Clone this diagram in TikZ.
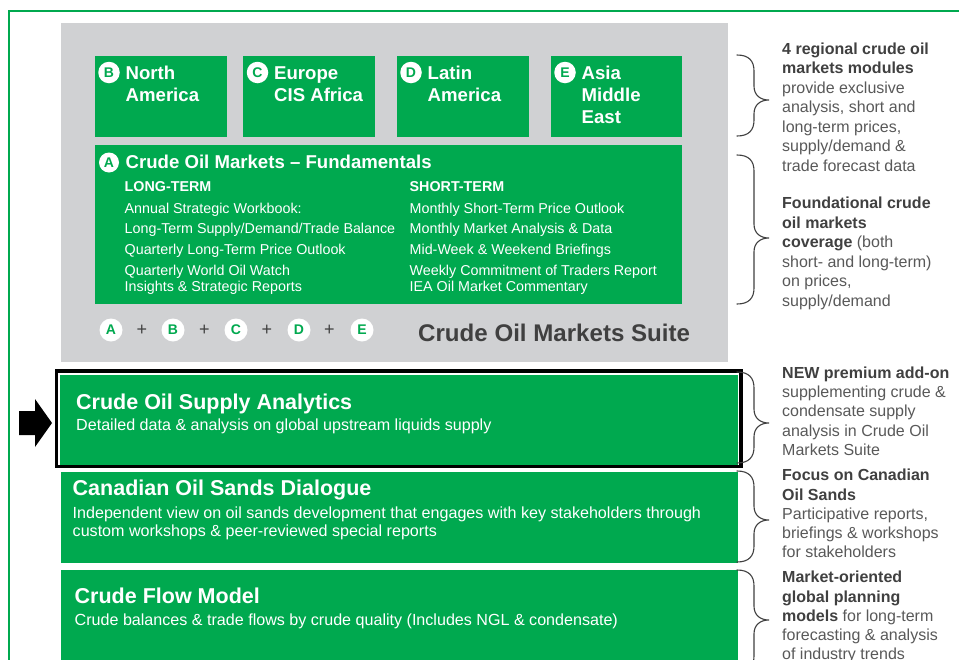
\documentclass[tikz,border=0pt]{standalone}
\usepackage{fontspec}
\setmainfont{Liberation Sans}
\definecolor{grn}{HTML}{00A94F}
\definecolor{suitegray}{HTML}{D0D1D3}
\definecolor{dkgray}{HTML}{404040}
\definecolor{txtgray}{HTML}{595959}
\newcommand\sidebrace[3]{%
  \draw[bracestyle] (737,#1) .. controls (749,#1) and (754,{#1+6}) .. (754,{#1+16})
    -- (754,{#3-14}) .. controls (754,{#3-5}) and (760,#3) .. (769,#3)
    .. controls (760,#3) and (754,{#3+5}) .. (754,{#3+14})
    -- (754,{#2-16}) .. controls (754,{#2-6}) and (749,#2) .. (737,#2);}
\newcommand\bd[1]{\textcolor{dkgray}{\bfseries #1}}
\begin{document}
\begin{tikzpicture}[x=1pt,y=-1pt,
  gbox/.style={fill=grn,draw=none},
  lbl/.style={inner sep=0,anchor=base west},
  regtitle/.style={lbl,text=white,font=\fontsize{18.6}{22}\selectfont\bfseries},
  bigtitle/.style={lbl,text=white,font=\fontsize{21.5}{24}\selectfont\bfseries},
  colhead/.style={lbl,text=white,font=\fontsize{14.3}{16}\selectfont\bfseries},
  item/.style={lbl,text=white,font=\fontsize{14.3}{16}\selectfont},
  desc/.style={lbl,text=white,font=\fontsize{16.1}{18}\selectfont},
  side/.style={lbl,text=txtgray,font=\fontsize{16}{19}\selectfont},
  circw/.style={circle,fill=white,inner sep=0,minimum size=22pt,text=grn,font=\fontsize{14}{14}\selectfont\bfseries},
  plus/.style={text=dkgray,inner sep=0,font=\fontsize{18}{18}\selectfont},
  bracestyle/.style={draw=dkgray,line width=1.1pt,line cap=round}]
\useasboundingbox (0,0) rectangle (959,659);
\clip (0,0) rectangle (959,659);
\fill[white] (0,0) rectangle (959,659);
% outer frame
\draw[grn,line width=1.6pt] (9,700) -- (9,11) -- (990,11);
% suite background
\fill[suitegray] (61,23) rectangle (728,362);
% regional boxes
\fill[gbox] (95,56) rectangle (227,137);
\fill[gbox] (243,56) rectangle (375,137);
\fill[gbox] (397,56) rectangle (529,137);
\fill[gbox] (551,56) rectangle (682,137);
\node[circw,minimum size=21.5pt] (cb) at (109,72.5) {B};
\node[circw,minimum size=21.5pt] (cc) at (257.5,72.5) {C};
\node[circw,minimum size=21.5pt] (cd) at (411,72.5) {D};
\node[circw,minimum size=21.5pt] (ce) at (565,72.5) {E};
\node[regtitle] (nna) at (125.5,79.3) {North};
\node[regtitle] (nnb) at (125.5,101) {America};
\node[regtitle] (eca) at (274,79.3) {Europe};
\node[regtitle] (ecb) at (274,101) {CIS Africa};
\node[regtitle] (laa) at (427.5,79.3) {Latin};
\node[regtitle] (lab) at (427.5,101) {America};
\node[regtitle] (asa) at (581.5,79.3) {Asia};
\node[regtitle] (asb) at (581.5,101) {Middle};
\node[regtitle] (asc) at (581.5,123) {East};
% fundamentals box
\fill[gbox] (95,145) rectangle (682,304);
\node[circw,minimum size=20pt] (ca) at (109,162.5) {A};
\node[regtitle] (fund) at (125.5,168.3) {Crude Oil Markets – Fundamentals};
\node[colhead] (lt) at (124.5,191) {LONG-TERM};
\node[colhead] (st) at (409.5,191) {SHORT-TERM};
\node[item] (l1) at (124.5,213.3) {Annual Strategic Workbook:};
\node[item] (l2) at (124.5,233.5) {Long-Term Supply/Demand/Trade Balance};
\node[item] (l3) at (124.5,254.3) {Quarterly Long-Term Price Outlook};
\node[item] (l4) at (124.5,275) {Quarterly World Oil Watch};
\node[item] (l5) at (124.5,291.7) {Insights \& Strategic Reports};
\node[item] (r1) at (409.5,213.3) {Monthly Short-Term Price Outlook};
\node[item] (r2) at (409.5,233.5) {Monthly Market Analysis \& Data};
\node[item] (r3) at (409.5,254.3) {Mid-Week \& Weekend Briefings};
\node[item] (r4) at (409.5,275) {Weekly Commitment of Traders Report};
\node[item] (r5) at (409.5,291.7) {IEA Oil Market Commentary};
% letter row
\node[circw,minimum size=23pt] (pa) at (111,330) {A};
\node[plus] (p1) at (142,330) {+};
\node[circw,minimum size=23pt] (pb) at (173,330) {B};
\node[plus] (p2) at (204.5,330) {+};
\node[circw,minimum size=23pt] (pc) at (236,330) {C};
\node[plus] (p3) at (267,330) {+};
\node[circw,minimum size=23pt] (pd) at (299,330) {D};
\node[plus] (p4) at (329.5,330) {+};
\node[circw,minimum size=23pt] (pe) at (362,330) {E};
\node[lbl,text=dkgray,font=\fontsize{24.1}{26}\selectfont\bfseries] (suite) at (418,341) {Crude Oil Markets Suite};
% supply analytics
\draw[black,line width=3.2pt] (56.7,371) rectangle (741,466.2);
\fill[gbox] (60,375) rectangle (737.5,464.5);
\node[bigtitle] (sat) at (76,409.3) {Crude Oil Supply Analytics};
\node[desc] (sad) at (76,430.7) {Detailed data \& analysis on global upstream liquids supply};
\fill[black] (19,411) -- (35,411) -- (35,399) -- (52,423) -- (35,447) -- (35,435) -- (19,435) -- cycle;
% canadian
\fill[gbox] (61,472) rectangle (738,563);
\node[bigtitle] (cat) at (72.5,495) {Canadian Oil Sands Dialogue};
\node[desc] (cad1) at (72.5,518) {Independent view on oil sands development that engages with key stakeholders through};
\node[desc] (cad2) at (72.5,536.5) {custom workshops \& peer-reviewed special reports};
% crude flow
\fill[gbox] (61,570) rectangle (738,680);
\node[bigtitle] (cft) at (74.5,603.3) {Crude Flow Model};
\node[desc] (cfd) at (74.5,625.7) {Crude balances \& trade flows by crude quality (Includes NGL \& condensate)};
% braces
\sidebrace{55}{136}{100}
\sidebrace{155}{304}{238}
\sidebrace{372}{463}{423}
\sidebrace{471}{562}{520}
\sidebrace{570}{672}{620}
% side texts
\node[side] (s1a) at (782,54) {\bd{4 regional crude oil}};
\node[side] (s1b) at (782,73.5) {\bd{markets modules}};
\node[side] (s1c) at (782,93) {provide exclusive};
\node[side] (s1d) at (782,112.5) {analysis, short and};
\node[side] (s1e) at (782,132) {long-term prices,};
\node[side] (s1f) at (782,151.5) {supply/demand \&};
\node[side] (s1g) at (782,171) {trade forecast data};
\node[side] (s2a) at (782,208.5) {\bd{Foundational crude}};
\node[side] (s2b) at (782,228) {\bd{oil markets}};
\node[side] (s2c) at (782,247.5) {\bd{coverage} (both};
\node[side] (s2d) at (782,267) {short- and long-term)};
\node[side] (s2e) at (782,286.5) {on prices,};
\node[side] (s2f) at (782,306) {supply/demand};
\node[side] (s3a) at (782,378.3) {\bd{NEW premium add-on}};
\node[side] (s3b) at (782,397.5) {supplementing crude \&};
\node[side] (s3c) at (782,416.8) {condensate supply};
\node[side] (s3d) at (782,436) {analysis in Crude Oil};
\node[side] (s3e) at (782,455.3) {Markets Suite};
\node[side] (s4a) at (782,480.7) {\bd{Focus on Canadian}};
\node[side] (s4b) at (782,500) {\bd{Oil Sands}};
\node[side] (s4c) at (782,519.3) {Participative reports,};
\node[side] (s4d) at (782,538.5) {briefings \& workshops};
\node[side] (s4e) at (782,557.8) {for stakeholders};
\node[side] (s5a) at (782,582.7) {\bd{Market-oriented}};
\node[side] (s5b) at (782,602) {\bd{global planning}};
\node[side] (s5c) at (782,621.2) {\bd{models} for long-term};
\node[side] (s5d) at (782,640.5) {forecasting \& analysis};
\node[side] (s5e) at (782,659.8) {of industry trends};
\end{tikzpicture}
\end{document}
